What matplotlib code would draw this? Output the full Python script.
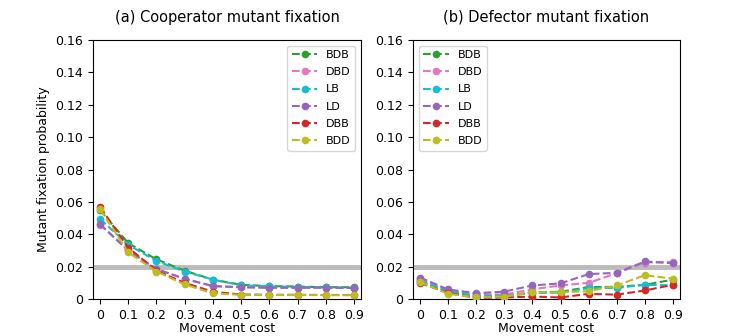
import matplotlib
matplotlib.use("Agg")
import matplotlib.pyplot as plt

# movement cost values on the x axis
costs = [0, 0.1, 0.2, 0.3, 0.4, 0.5, 0.6, 0.7, 0.8, 0.9]
labels = ["BDB", "DBD", "LB", "LD", "DBB", "BDD"]
colors = ["tab:green", "tab:pink", "tab:cyan", "tab:purple", "tab:red", "tab:olive"]

# (a) cooperator mutant fixation
coop_bdb = [0.055, 0.0345, 0.0245, 0.0175, 0.012, 0.0088, 0.0080, 0.0077, 0.0073, 0.0073]
coop_dbd = [0.046, 0.0300, 0.0185, 0.0125, 0.0080, 0.0073, 0.0070, 0.0070, 0.0070, 0.0068]
coop_lb = [0.0495, 0.0335, 0.0235, 0.0170, 0.0120, 0.0085, 0.0078, 0.0075, 0.0072, 0.0070]
coop_ld = [0.0462, 0.0300, 0.0185, 0.0125, 0.0080, 0.0073, 0.0070, 0.0070, 0.0070, 0.0068]
coop_dbb = [0.0568, 0.0318, 0.0175, 0.0100, 0.0045, 0.0028, 0.0026, 0.0026, 0.0025, 0.0025]
coop_bdd = [0.0555, 0.0288, 0.0170, 0.0090, 0.0035, 0.0026, 0.0025, 0.0025, 0.0024, 0.0024]

# (b) defector mutant fixation
def_bdb = [0.0110, 0.0045, 0.0018, 0.0018, 0.0042, 0.0045, 0.0074, 0.0075, 0.0088, 0.0120]
def_dbd = [0.0125, 0.0055, 0.0030, 0.0028, 0.0060, 0.0084, 0.0100, 0.0160, 0.0225, 0.0229]
def_lb = [0.0115, 0.0050, 0.0021, 0.0020, 0.0036, 0.0040, 0.0067, 0.0069, 0.0088, 0.0084]
def_ld = [0.0133, 0.0059, 0.0036, 0.0046, 0.0084, 0.0097, 0.0154, 0.0162, 0.0232, 0.0221]
def_dbb = [0.0099, 0.0038, 0.0006, 0.0010, 0.0015, 0.0010, 0.0032, 0.0027, 0.0053, 0.0088]
def_bdd = [0.0105, 0.0032, 0.0010, 0.0015, 0.0042, 0.0042, 0.0048, 0.0084, 0.0147, 0.0126]

coop = [coop_bdb, coop_dbd, coop_lb, coop_ld, coop_dbb, coop_bdd]
defe = [def_bdb, def_dbd, def_lb, def_ld, def_dbb, def_bdd]

fig = plt.figure(figsize=(7.56, 3.36), dpi=100)
ax1 = fig.add_axes([0.123, 0.110, 0.3545, 0.771])
ax2 = fig.add_axes([0.5463, 0.110, 0.3532, 0.771])


def draw_panel(ax, series, title, loc):
    ax.axhline(0.02, color="#bbbbbb", linewidth=3.5, zorder=1)
    for vals, lab, col in zip(series, labels, colors):
        ax.plot(costs, vals, "--o", color=col, label=lab, markersize=4.5,
                linewidth=1.5, zorder=3)
    ax.set_xlim(-0.025, 0.925)
    ax.set_ylim(0, 0.16)
    ax.set_xticks(costs)
    ax.set_xticklabels(["0"] + [f"{c:.1f}" for c in costs[1:]])
    ax.set_yticks([0, 0.02, 0.04, 0.06, 0.08, 0.10, 0.12, 0.14, 0.16])
    ax.set_yticklabels(["0"] + [f"{v:.2f}" for v in [0.02, 0.04, 0.06, 0.08, 0.10, 0.12, 0.14, 0.16]])
    ax.tick_params(labelsize=9)
    ax.set_xlabel("Movement cost", fontsize=9, labelpad=0)
    ax.set_title(title, fontsize=10.5, pad=13)
    ax.legend(loc=loc, fontsize=8, labelspacing=0.65, handlelength=2.3)


draw_panel(ax1, coop, "(a) Cooperator mutant fixation", "upper right")
draw_panel(ax2, defe, "(b) Defector mutant fixation", "upper left")
ax1.set_ylabel("Mutant fixation probability", fontsize=9)

fig.savefig("out.png", dpi=100)
